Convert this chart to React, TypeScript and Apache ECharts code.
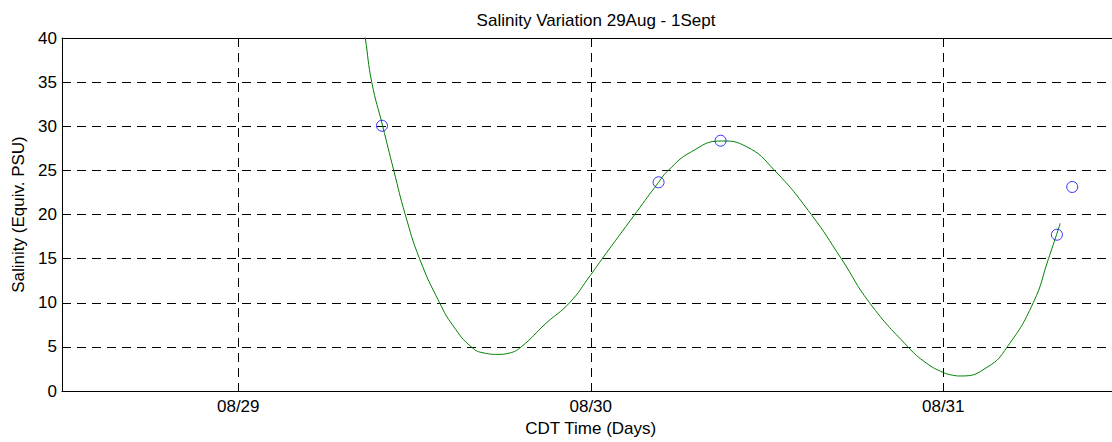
import React, { useEffect, useRef } from "react";
import * as echarts from "echarts";

// Fitted curve (days since 08/29 00:00, salinity)
const curveDays = [
  0.355, 0.3603, 0.3787, 0.4099, 0.4411, 0.4738, 0.5143, 0.5711, 0.6099, 0.661,
  0.698, 0.7367, 0.769, 0.8028, 0.8738, 0.9399, 0.9986, 1.0298, 1.1291, 1.1924,
  1.2199, 1.2851, 1.3702, 1.4411, 1.5214, 1.6255, 1.7106, 1.7909, 1.8999, 1.9518,
  2.0, 2.0255, 2.0511, 2.1268, 2.1816, 2.2553, 2.2987, 2.3319,
];
const curveValues = [
  41.2, 40.0, 35.0, 30.0, 25.0, 20.0, 15.0, 10.0, 7.37, 5.0,
  4.3, 4.15, 4.3, 5.0, 7.7, 10.0, 13.09, 14.84, 20.23, 23.65,
  25.0, 27.1, 28.33, 27.7, 25.0, 20.0, 15.0, 10.0, 5.0, 3.17,
  2.1, 1.8, 1.7, 2.75, 5.0, 10.0, 15.0, 19.0,
];

// Measured samples
const sampleDays = [0.4077, 1.1924, 1.3683, 2.3225, 2.366];
const sampleValues = [30.06, 23.65, 28.36, 17.71, 23.12];

const dayTicks = [0, 1, 2];
const dayLabels = ["08/29", "08/30", "08/31"];

const FONT = "Arial, 'Liberation Sans', Helvetica, sans-serif";
const FS = 17;

export default function App() {
  const ref = useRef<HTMLDivElement>(null);
  useEffect(() => {
    if (!ref.current) return;
    const chart = echarts.init(ref.current, undefined, { renderer: "svg" });
    const dash = [9, 6];
    chart.setOption({
      animation: false,
      backgroundColor: "#ffffff",
      title: {
        text: "Salinity Variation 29Aug - 1Sept",
        left: 591,
        top: 7,
        textAlign: "center",
        textStyle: { fontFamily: FONT, fontSize: FS, fontWeight: "normal", color: "#000" },
      },
      grid: { left: 62, top: 38, bottom: 51, right: 5.5, containLabel: false },
      xAxis: [
        {
          type: "value",
          min: -0.5,
          max: 2.5,
          name: "CDT Time (Days)",
          nameLocation: "middle",
          nameGap: 29,
          nameTextStyle: { fontFamily: FONT, fontSize: FS, color: "#000" },
          axisLine: { show: true, onZero: false, lineStyle: { color: "#000", width: 1 } },
          axisTick: { show: true, inside: true, length: 5, customValues: dayTicks, lineStyle: { color: "#000" } },
          axisLabel: {
            customValues: dayTicks,
            formatter: (v: number) => dayLabels[dayTicks.indexOf(Math.round(v))] ?? "",
            fontFamily: FONT,
            fontSize: FS,
            color: "#000",
            margin: 7,
          },
          splitLine: { show: true, lineStyle: { color: "#000", type: dash, width: 1 } },
        },
        {
          type: "value",
          position: "top",
          min: -0.5,
          max: 2.5,
          axisLine: { show: true, onZero: false, lineStyle: { color: "#000", width: 1 } },
          axisTick: { show: false },
          axisLabel: { show: false },
          splitLine: { show: false },
        },
      ],
      yAxis: {
        type: "value",
        min: 0,
        max: 40,
        interval: 5,
        name: "Salinity (Equiv. PSU)",
        nameLocation: "middle",
        nameGap: 35,
        nameTextStyle: { fontFamily: FONT, fontSize: FS, color: "#000" },
        axisLine: { show: true, onZero: false, lineStyle: { color: "#000", width: 1 } },
        axisTick: { show: true, inside: true, length: 5, lineStyle: { color: "#000" } },
        axisLabel: { fontFamily: FONT, fontSize: FS, color: "#000", margin: 5 },
        splitLine: { show: true, lineStyle: { color: "#000", type: dash, width: 1 } },
      },
      series: [
        {
          type: "line",
          data: curveDays.map((d, i) => [d, curveValues[i]]),
          showSymbol: false,
          symbol: "none",
          smooth: 0.5,
          clip: true,
          lineStyle: { color: "#008000", width: 1 },
          z: 3,
        },
        {
          type: "scatter",
          data: sampleDays.map((d, i) => [d, sampleValues[i]]),
          symbol: "circle",
          symbolSize: 11,
          itemStyle: { color: "rgba(0,0,0,0)", borderColor: "#0000ff", borderWidth: 1 },
          z: 4,
        },
      ],
    });
    return () => chart.dispose();
  }, []);
  return (
    <div style={{ position: "fixed", left: 0, top: 0, width: 1112, height: 442, overflow: "hidden", background: "#fff" }}>
      <div ref={ref} style={{ width: 1125, height: 442 }} />
    </div>
  );
}
